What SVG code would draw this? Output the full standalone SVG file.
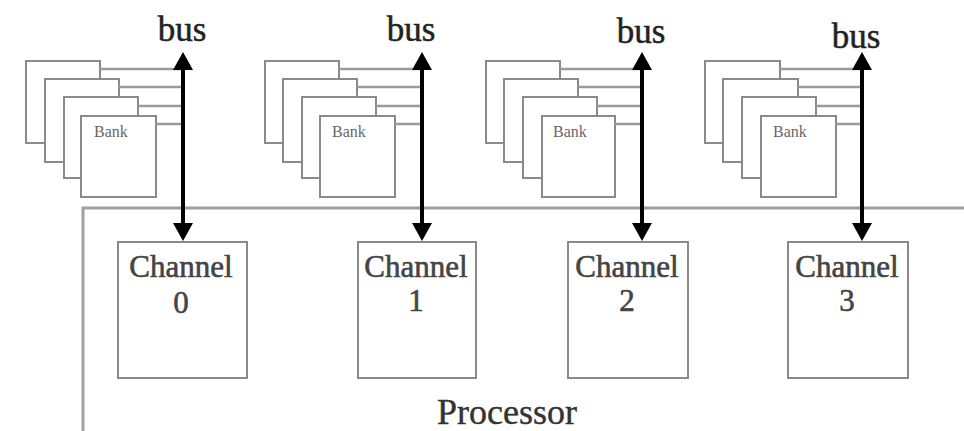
<svg xmlns="http://www.w3.org/2000/svg" width="964" height="431" viewBox="0 0 964 431">
<defs>
<style>
.bank{fill:#fff;stroke:#8a8a8a;stroke-width:2}
.wire{stroke:#9a9a9a;stroke-width:2.5;fill:none}
.chan{fill:#fff;stroke:#8a8a8a;stroke-width:2}
.proc{fill:none;stroke:#a0a0a0;stroke-width:3}
.bus{stroke:#000;stroke-width:4;fill:none;marker-start:url(#ah);marker-end:url(#ah)}
.buslbl{font-family:"Liberation Serif",serif;font-size:35px;fill:#222;stroke:#222;stroke-width:0.5;text-anchor:middle}
.banklbl{font-family:"Liberation Serif",serif;font-size:16px;fill:#666}
.chlbl{font-family:"Liberation Serif",serif;font-size:31px;fill:#444;stroke:#444;stroke-width:0.6;text-anchor:middle}
.proclbl{font-family:"Liberation Serif",serif;font-size:36px;fill:#333;stroke:#333;stroke-width:0.4;text-anchor:middle}
</style>
<marker id="ah" markerUnits="userSpaceOnUse" markerWidth="20" markerHeight="20" viewBox="0 0 18 20" refX="4" refY="10" orient="auto-start-reverse">
<path d="M0,0 L18,10 L0,20 z" fill="#000"/>
</marker>
</defs>

<g id="processor">
<path class="proc" d="M83,431 L83,208 L966,208"/>
<text class="proclbl" x="507" y="424">Processor</text>
</g>

<g id="memory0">
<rect class="bank" x="26" y="61" width="74" height="82"/>
<rect class="bank" x="45" y="79" width="74" height="83"/>
<rect class="bank" x="64" y="97" width="74" height="81"/>
<rect class="bank" x="81" y="116" width="75" height="81"/>
<text class="banklbl" x="94" y="137">Bank</text>
<text class="buslbl" x="182" y="41">bus</text>
</g>
<g id="memory1">
<rect class="bank" x="265" y="61" width="74" height="82"/>
<rect class="bank" x="283" y="79" width="74" height="83"/>
<rect class="bank" x="302" y="97" width="74" height="81"/>
<rect class="bank" x="320" y="116" width="75" height="81"/>
<text class="banklbl" x="332" y="137">Bank</text>
<text class="buslbl" x="411" y="41">bus</text>
</g>
<g id="memory2">
<rect class="bank" x="486" y="61" width="74" height="82"/>
<rect class="bank" x="504" y="79" width="74" height="83"/>
<rect class="bank" x="523" y="97" width="74" height="81"/>
<rect class="bank" x="542" y="116" width="73" height="81"/>
<text class="banklbl" x="553" y="137">Bank</text>
<text class="buslbl" x="641" y="43">bus</text>
</g>
<g id="memory3">
<rect class="bank" x="705" y="61" width="75" height="82"/>
<rect class="bank" x="723" y="79" width="75" height="83"/>
<rect class="bank" x="742" y="97" width="74" height="81"/>
<rect class="bank" x="761" y="116" width="75" height="81"/>
<text class="banklbl" x="773" y="137">Bank</text>
<text class="buslbl" x="856" y="48">bus</text>
</g>

<g id="channel0">
<rect class="chan" x="118" y="242" width="129" height="136"/>
<text class="chlbl" x="181" y="277">Channel</text>
<text class="chlbl" x="181" y="313">0</text>
</g>
<g id="channel1">
<rect class="chan" x="358" y="242" width="118" height="136"/>
<text class="chlbl" x="416" y="277">Channel</text>
<text class="chlbl" x="416" y="311">1</text>
</g>
<g id="channel2">
<rect class="chan" x="568" y="242" width="120" height="136"/>
<text class="chlbl" x="627" y="277">Channel</text>
<text class="chlbl" x="627" y="311">2</text>
</g>
<g id="channel3">
<rect class="chan" x="788" y="242" width="120" height="136"/>
<text class="chlbl" x="847" y="277">Channel</text>
<text class="chlbl" x="847" y="311">3</text>
</g>

<g id="connectors">
<path class="wire" d="M100,69 H183 M119,87 H183 M138,106 H183 M156,124 H183"/>
<path class="wire" d="M339,69 H422 M357,87 H422 M376,106 H422 M395,124 H422"/>
<path class="wire" d="M560,69 H642 M578,87 H642 M597,106 H642 M615,124 H642"/>
<path class="wire" d="M780,69 H862 M798,87 H862 M816,106 H862 M836,124 H862"/>
<path class="bus" d="M183,66 V227"/>
<path class="bus" d="M422,66 V227"/>
<path class="bus" d="M642,66 V227"/>
<path class="bus" d="M862,66 V227"/>
</g>
</svg>
